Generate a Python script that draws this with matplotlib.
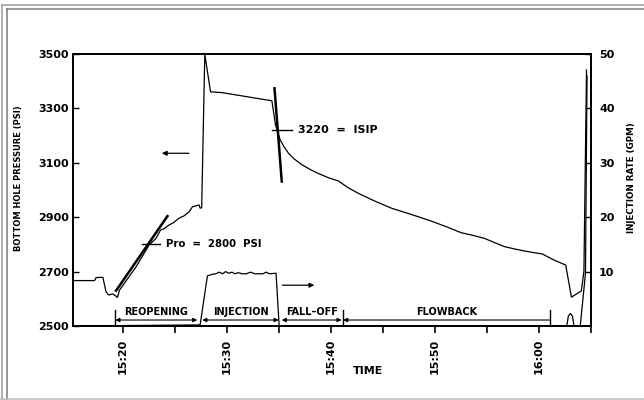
import numpy as np
import matplotlib
matplotlib.use('Agg')
import matplotlib.pyplot as plt
from matplotlib.lines import Line2D

# pressure record (minutes after midnight, psi)
p_time = [915.2, 917.3, 917.45, 918.1, 918.4, 918.65, 919.05, 919.35, 919.5, 919.7,
          921.3, 922.55, 923.2, 923.65, 924.0, 924.45, 924.9, 925.4, 925.9, 926.4,
          926.7, 927.35, 927.45, 927.6, 927.9, 928.45, 929.55, 934.35, 934.7, 935.15,
          935.5, 935.95, 936.5, 937.2, 938.0, 938.8, 939.8, 940.75, 941.7, 942.65,
          944.2, 945.85, 947.1, 948.4, 949.8, 951.25, 952.55, 953.6, 954.8, 955.8,
          956.7, 957.6, 958.6, 959.5, 960.35, 961.45, 962.6, 963.15, 964.1, 964.35,
          964.6]
p_psi = [2667, 2667, 2678, 2679, 2626, 2614, 2618, 2610, 2605, 2632,
         2718, 2798, 2822, 2853, 2858, 2871, 2880, 2896, 2905, 2920,
         2938, 2945, 2933, 2935, 3499, 3361, 3358, 3328, 3239, 3184,
         3160, 3135, 3114, 3094, 3076, 3061, 3045, 3033, 3008, 2988,
         2960, 2933, 2918, 2902, 2884, 2863, 2843, 2834, 2822, 2806,
         2792, 2784, 2776, 2770, 2765, 2743, 2724, 2606, 2629, 2700,
         3441]

# injection rate record (minutes, gpm)
r_time = [915.2, 927.45, 928.15, 928.6, 928.95, 929.3, 929.6, 929.9, 930.2, 930.5,
          930.8, 931.1, 931.5, 931.9, 932.3, 932.7, 933.1, 933.5, 933.8, 934.1,
          934.75, 935.05, 962.7, 962.85, 963.05, 963.25, 963.4, 964.0, 964.5, 964.65]
r_gpm = [0, 0.2, 9.2, 9.5, 9.6, 9.9, 9.6, 10.0, 9.7, 9.9,
         9.6, 9.8, 9.6, 9.6, 9.9, 9.6, 9.6, 9.6, 9.9, 9.6,
         9.7, 0, 0, 1.8, 2.3, 1.8, 0, 0, 9.7, 46]

# tangent lines and picks
reopen_line_t = [919.37, 924.31]
reopen_line_p = [2630, 2904]
isip_line_t = [934.6, 935.3]
isip_line_p = [3374, 3031]
pro_psi = 2800
isip_psi = 3220

# phases: (label, start, end)
phases = [('REOPENING', 919.3, 927.18), ('INJECTION', 927.66, 935.0),
          ('FALL\u2013OFF', 935.3, 941.05), ('FLOWBACK', 941.2, 961.1)]

x_ticks = [920, 925, 930, 935, 940, 945, 950, 955, 960, 965]
x_labels = ['15:20', '', '15:30', '', '15:40', '', '15:50', '', '16:00', '']
p_ticks = [2500, 2700, 2900, 3100, 3300, 3500]
r_ticks = [10, 20, 30, 40, 50]

plt.rcParams['font.family'] = 'DejaVu Sans'
plt.rcParams['font.weight'] = 'bold'

fig = plt.figure(figsize=(6.44, 4.0), dpi=100)
ax = fig.add_axes([0.1129, 0.185, 0.8043, 0.68])
ax2 = ax.twinx()

ax.plot(p_time, p_psi, color='black', lw=0.9)
ax2.plot(r_time, r_gpm, color='black', lw=0.9)

ax.set_xlim(915.2, 965)
ax.set_ylim(2500, 3500)
ax2.set_ylim(0, 50)

# tangents
ax.plot(reopen_line_t, reopen_line_p, color='black', lw=1.8)
ax.plot(isip_line_t, isip_line_p, color='black', lw=1.8)
ax.plot([921.86, 923.58], [pro_psi, pro_psi], color='black', lw=1.0)
ax.plot([934.35, 936.27], [isip_psi, isip_psi], color='black', lw=1.0)
ax.text(924.15, pro_psi, 'Pro  =  2800  PSI', fontsize=7.3, fontweight='bold', va='center', ha='left')
ax.text(936.84, isip_psi, '3220  =  ISIP', fontsize=8, fontweight='bold', va='center', ha='left')

# axis arrows
ax.annotate('', xy=(923.5, 3135), xytext=(926.65, 3135),
            arrowprops=dict(arrowstyle='-|>', color='black', lw=0.9, mutation_scale=7))
ax2.annotate('', xy=(938.7, 7.5), xytext=(935.1, 7.5),
             arrowprops=dict(arrowstyle='-|>', color='black', lw=0.9, mutation_scale=7))

# phase bars
bar_y = 1.1
for i, (name, t0, t1) in enumerate(phases):
    if name == 'FLOWBACK':
        ax2.annotate('', xy=(t0, bar_y), xytext=(t1, bar_y),
                     arrowprops=dict(arrowstyle='-|>', color='black', lw=0.8, mutation_scale=6, shrinkA=0, shrinkB=0))
    else:
        ax2.annotate('', xy=(t0, bar_y), xytext=(t1, bar_y),
                     arrowprops=dict(arrowstyle='<|-|>', color='black', lw=0.8, mutation_scale=6, shrinkA=0, shrinkB=0))
    ax2.text((t0 + t1) / 2, bar_y + 0.5, name, fontsize=7, fontweight='bold', ha='center', va='bottom')
for t in [919.3, 941.15, 961.1]:
    ax2.plot([t, t], [0, 3.0], color='black', lw=1.0)

# ticks and labels
ax.set_xticks(x_ticks)
ax.set_xticklabels(x_labels, rotation=90, fontsize=8, fontweight='bold')
ax.tick_params(axis='x', direction='out', length=5, width=1.2, pad=4)
ax.set_yticks(p_ticks)
ax.set_yticklabels([str(v) for v in p_ticks], fontsize=8, fontweight='bold')
ax.tick_params(axis='y', direction='in', length=4, width=1.0, pad=3)
ax2.set_yticks(r_ticks)
ax2.set_yticklabels([str(v) for v in r_ticks], fontsize=8, fontweight='bold')
ax2.tick_params(axis='y', direction='in', length=4, width=1.0, pad=6)

for a in (ax, ax2):
    for s in a.spines.values():
        s.set_linewidth(1.3)

ax.set_ylabel('BOTTOM HOLE PRESSURE (PSI)', fontsize=6.0, fontweight='bold')
ax.yaxis.set_label_coords(-0.096, 0.545)
ax2.set_ylabel('INJECTION RATE (GPM)', fontsize=6.3, fontweight='bold', rotation=90)
ax2.yaxis.set_label_coords(1.07, 0.545)
ax.set_xlabel('TIME', fontsize=8, fontweight='bold')
ax.xaxis.set_label_coords(0.57, -0.147)

# scanned-page frame
W, H = 644, 400
def fl(xs, ys, c):
    fig.add_artist(Line2D([x / W for x in xs], [1 - y / H for y in ys],
                          color=c, lw=1.1, transform=fig.transFigure))
fl([2, 2], [4.7, 400], '#9a9a9a')
fl([2, 644], [4.7, 4.7], '#9a9a9a')
fl([6.7, 6.7], [9, 400], '#7a7a7a')
fl([6.7, 644], [9, 9], '#7a7a7a')
fl([0, 644], [399, 399], '#bdbdbd')

fig.savefig('out.png', dpi=100)
